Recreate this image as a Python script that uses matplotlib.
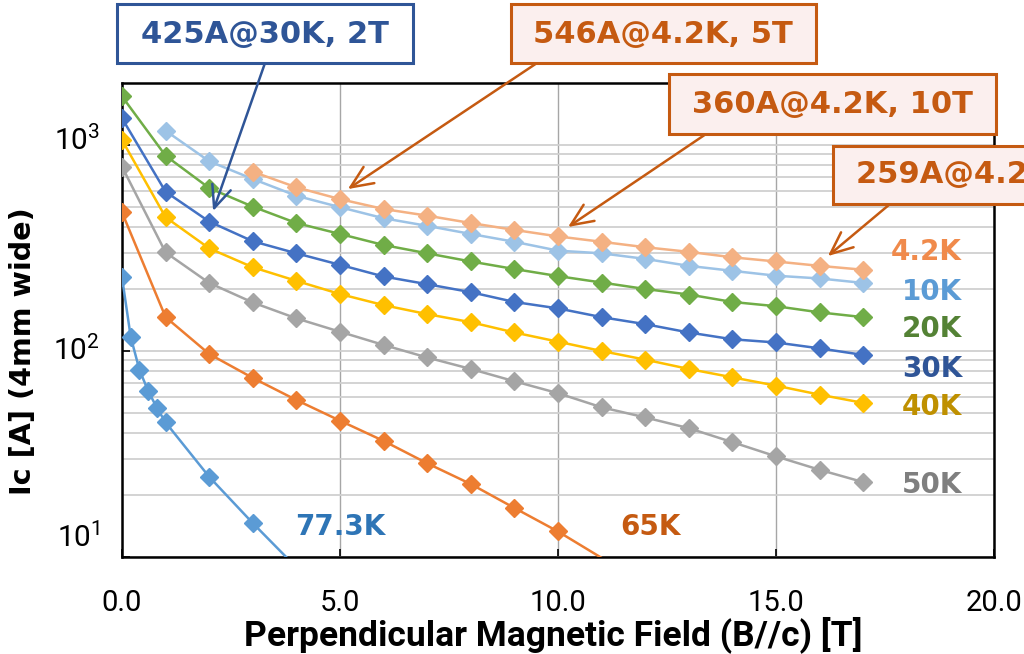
import matplotlib
matplotlib.use('Agg')
import matplotlib.pyplot as plt
from matplotlib.patches import Rectangle
from matplotlib.ticker import FixedLocator, FuncFormatter, NullFormatter

# ---------------- data ----------------
field = list(range(18))                     # 0 .. 17 T
field_42K = list(range(3, 18))
ic_42K = [742, 623, 546, 489, 454, 418, 387, 360, 339, 319, 303, 285, 272, 259, 248]
field_10K = list(range(1, 18))
ic_10K = [1173, 834, 684, 567, 499, 441, 405, 370, 339, 307, 298, 280, 259, 245, 232, 225, 214]
ic_20K = [1722, 887, 618, 502, 418, 370, 327, 298, 272, 250, 231, 215, 200, 188, 173, 165, 154, 146]
ic_30K = [1348, 593, 425, 341, 298, 262, 230, 211, 193, 173, 161, 146, 135, 123, 114, 110, 103, 95.7]
ic_40K = [1057, 446, 315, 255, 219, 189, 167, 151, 138, 123, 111, 100, 90.8, 81.8, 74.5, 67.9, 61.4, 56]
ic_50K = [785, 301, 214, 172, 144, 124, 107, 93, 81.8, 71.3, 62.4, 53.3, 47.6, 42.2, 36.1, 30.8, 26.5, 23.1]
field_65K = list(range(12))
ic_65K = [471, 146, 96.7, 74, 57.8, 45.9, 36.6, 28.5, 22.6, 17.3, 13.3, 9.9]
field_77K = [0, 0.2, 0.4, 0.6, 0.8, 1, 2, 3, 4]
ic_77K = [228, 117, 81, 64, 53, 45, 24.5, 14.6, 8.9]

x_ticks = [0, 5, 10, 15, 20]
x_ticklabels = ['0.0', '5.0', '10.0', '15.0', '20.0']
y_ticks = [10, 100, 1000]
y_ticklabels = ['$10^{1}$', '$10^{2}$', '$10^{3}$']

series = [
    # label, x, y, line colour, label colour, label pos (px)
    ('77.3K', field_77K, ic_77K, '#5B9BD5', '#2E75B6', (340, 527), 'center'),
    ('65K', field_65K, ic_65K, '#ED7D31', '#C55A11', (650, 527), 'center'),
    ('50K', field, ic_50K, '#A5A5A5', '#7F7F7F', (962, 485), 'right'),
    ('40K', field, ic_40K, '#FFC000', '#BF9000', (962, 407), 'right'),
    ('30K', field, ic_30K, '#4472C4', '#2F5597', (962, 369), 'right'),
    ('20K', field, ic_20K, '#70AD47', '#548235', (962, 329), 'right'),
    ('10K', field_10K, ic_10K, '#9DC3E6', '#5B9BD5', (962, 292), 'right'),
    ('4.2K', field_42K, ic_42K, '#F4B183', '#F08A4B', (962, 252), 'right'),
]

# ---------------- layout helpers ----------------
W, H = 1024, 654
def fx(x):
    return x / W
def fy(y):
    return 1 - y / H

plt.rcParams['mathtext.fontset'] = 'custom'
plt.rcParams['mathtext.rm'] = 'Roboto'
plt.rcParams['mathtext.it'] = 'Roboto'

fig = plt.figure(figsize=(W / 100, H / 100), dpi=100)
fig.patch.set_facecolor('white')
L, R, T, B = 122, 994, 83, 557
ax = fig.add_axes([fx(L), fy(B), (R - L) / W, (B - T) / H])
ax.set_xlim(0, 20)
ax.set_yscale('log')
ax.set_ylim(10, 2000)

# grid / ticks
ax.xaxis.set_major_locator(FixedLocator(x_ticks))
ax.xaxis.set_major_formatter(FuncFormatter(lambda v, p: x_ticklabels[x_ticks.index(round(v))] if round(v) in x_ticks else ''))
ax.yaxis.set_major_locator(FixedLocator(y_ticks))
ax.yaxis.set_major_formatter(NullFormatter())
minor = [m * 10 ** k for k in (1, 2, 3) for m in range(2, 10) if m * 10 ** k < 2000]
ax.yaxis.set_minor_locator(FixedLocator(minor))
ax.yaxis.set_minor_formatter(NullFormatter())
ax.grid(True, axis='y', which='both', color='#D0D0D0', lw=1.3, zorder=0)
ax.grid(True, axis='x', which='major', color='#A6A6A6', lw=1.0, zorder=0)
ax.set_axisbelow(True)
for s in ax.spines.values():
    s.set_color('black')
    s.set_linewidth(1.8)
ax.tick_params(axis='x', which='major', direction='in', length=6, width=1.2,
               pad=23, labelsize=21, colors='black')
ax.tick_params(axis='y', which='major', direction='in', length=6, width=1.2,
               labelleft=False)
ax.tick_params(axis='y', which='minor', length=0)
for lab in ax.get_xticklabels():
    lab.set_family('Roboto')

# y tick labels (Excel places them slightly off the gridlines)
y_label_baselines = [547, 360, 150]
for lbl, base in zip(y_ticklabels, y_label_baselines):
    fig.text(fx(100), fy(base), lbl, fontsize=21.5, family='Roboto',
             ha='right', va='baseline', color='black')

# series
for i, (name, xs, ys, lc, tc, pos, ha) in enumerate(series):
    ax.plot(xs, ys, color=lc, lw=1.8, zorder=3 + i)
    xm = [x for x, y in zip(xs, ys) if y >= 10]
    ym = [y for y in ys if y >= 10]
    ax.plot(xm, ym, ls='none', marker='D', ms=9.5, color=lc, mec=lc, zorder=3 + i)
    fig.text(fx(pos[0]), fy(pos[1]), name, color=tc, fontsize=20, fontweight='bold',
             family='DejaVu Sans', ha=ha, va='center')

# axis labels (fit to measured widths)
renderer = fig.canvas.get_renderer()
def fit(t, target_w):
    bb = t.get_window_extent(renderer)
    w = bb.width if t.get_rotation() == 0 else bb.height
    t.set_fontsize(t.get_fontsize() * target_w / w)

xl = fig.text(fx(553), fy(635), 'Perpendicular Magnetic Field (B//c) [T]', fontsize=22,
              fontweight='bold', family='Roboto', ha='center', va='center')
fit(xl, 617)
yl = fig.text(fx(23), fy(351), 'Ic [A] (4mm wide)', fontsize=20, fontweight='bold',
              family='DejaVu Sans', rotation=90, ha='center', va='center')
fit(yl, 288)

# annotation boxes
blue = '#2F5597'
orange = '#C55A11'
pink = '#FBEFEE'
boxes = [
    # text, (x0,y0,x1,y1) px, text anchor px, ha, colour, fill
    ('425A@30K, 2T', (117, 4, 413, 63), (265, 34), 'center', blue, 'white'),
    ('546A@4.2K, 5T', (511, 4, 816, 63), (663, 34), 'center', orange, pink),
    ('360A@4.2K, 10T', (669, 74, 996, 134), (832, 104), 'center', orange, pink),
    ('259A@4.2K, 16T', (833, 146, 1100, 204), (856, 175), 'left', orange, pink),
]
for txt, (x0, y0, x1, y1), (tx, ty), ha, col, fill in boxes:
    fig.patches.append(Rectangle((fx(x0), fy(y1)), (x1 - x0) / W, (y1 - y0) / H,
                                 transform=fig.transFigure, facecolor=fill,
                                 edgecolor=col, lw=2.2, zorder=10))
    fig.text(fx(tx), fy(ty), txt, color=col, fontsize=22, fontweight='bold',
             family='DejaVu Sans', ha=ha, va='center', zorder=11)

arrows = [
    # tip (data), start (px), colour
    ((2.09, 478), (265, 63), blue),
    ((5.18, 611), (537, 63), orange),
    ((10.23, 400), (706, 134), orange),
    ((16.19, 289), (890, 204), orange),
]
for (tx, ty), (sx, sy), col in arrows:
    ax.annotate('', xy=(tx, ty), xycoords='data', xytext=(fx(sx), fy(sy)),
                textcoords='figure fraction', annotation_clip=False,
                arrowprops=dict(arrowstyle='->,head_length=0.8,head_width=0.35',
                                color=col, lw=1.8, shrinkA=0, shrinkB=0,
                                mutation_scale=20), zorder=12)

fig.savefig('out.png', dpi=100)
